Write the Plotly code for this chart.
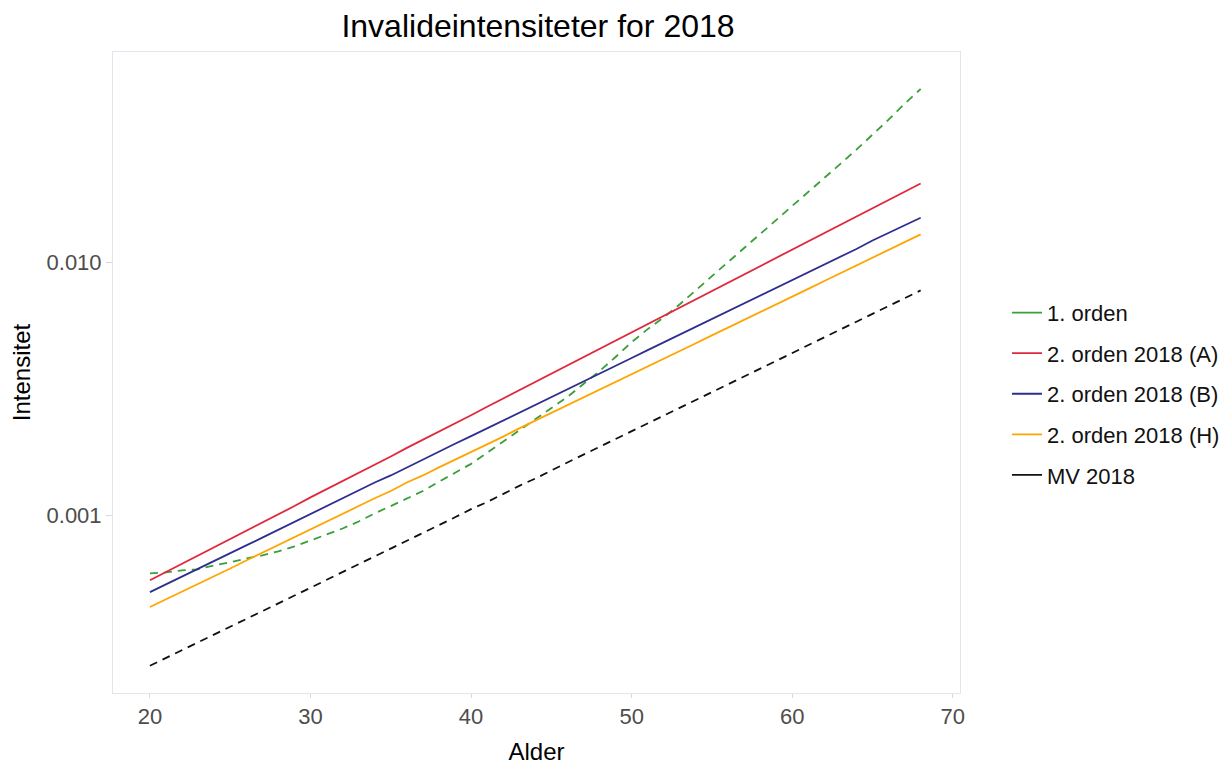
import plotly.graph_objects as go

ages = list(range(20, 69))

orden1 = [0.000591, 0.000596, 0.000607, 0.000613, 0.000636, 0.000653, 0.000677, 0.000696,
          0.000722, 0.000755, 0.000797, 0.000842, 0.000889, 0.000947, 0.00102, 0.00109,
          0.00117, 0.00125, 0.00136, 0.00148, 0.00160, 0.00177, 0.00196, 0.00216,
          0.00241, 0.00266, 0.00294, 0.00331, 0.00372, 0.00423, 0.00484, 0.00545,
          0.00607, 0.00683, 0.00776, 0.00881, 0.0100, 0.0114, 0.0129, 0.0146,
          0.0166, 0.0189, 0.0216, 0.0245, 0.0279, 0.0319, 0.0366, 0.0423, 0.0484]

orden2_A = [0.000555, 0.000598, 0.000645, 0.000695, 0.000749, 0.000808, 0.000871, 0.000939,
            0.00101, 0.00109, 0.00118, 0.00127, 0.00137, 0.00147, 0.00159, 0.00171,
            0.00185, 0.00199, 0.00215, 0.00231, 0.00249, 0.00269, 0.00290, 0.00313,
            0.00337, 0.00363, 0.00392, 0.00422, 0.00455, 0.00491, 0.00529, 0.00570,
            0.00615, 0.00663, 0.00715, 0.00770, 0.00831, 0.00895, 0.00965, 0.0104,
            0.0112, 0.0121, 0.0130, 0.0141, 0.0152, 0.0163, 0.0176, 0.0190, 0.0205]

orden2_B = [0.000498, 0.000534, 0.000574, 0.000616, 0.000661, 0.000710, 0.000762, 0.000818,
            0.000879, 0.000943, 0.00101, 0.00109, 0.00117, 0.00125, 0.00135, 0.00144,
            0.00155, 0.00166, 0.00179, 0.00192, 0.00206, 0.00221, 0.00237, 0.00255,
            0.00274, 0.00294, 0.00315, 0.00339, 0.00364, 0.00390, 0.00419, 0.00450,
            0.00483, 0.00519, 0.00557, 0.00598, 0.00642, 0.00689, 0.00740, 0.00794,
            0.00852, 0.00915, 0.00982, 0.0105, 0.0113, 0.0122, 0.0131, 0.0140, 0.0150]

orden2_H = [0.000435, 0.000466, 0.000500, 0.000537, 0.000576, 0.000618, 0.000664, 0.000712,
            0.000765, 0.000820, 0.000881, 0.000945, 0.00101, 0.00109, 0.00117, 0.00125,
            0.00135, 0.00144, 0.00155, 0.00166, 0.00178, 0.00191, 0.00205, 0.00221,
            0.00237, 0.00254, 0.00272, 0.00292, 0.00314, 0.00337, 0.00361, 0.00388,
            0.00416, 0.00447, 0.00479, 0.00515, 0.00552, 0.00593, 0.00636, 0.00683,
            0.00733, 0.00786, 0.00844, 0.00905, 0.00972, 0.0104, 0.0112, 0.0120, 0.0129]

mv2018 = [0.000255, 0.000274, 0.000294, 0.000315, 0.000339, 0.000364, 0.000390, 0.000419,
          0.000450, 0.000483, 0.000519, 0.000557, 0.000598, 0.000642, 0.000690, 0.000740,
          0.000795, 0.000854, 0.000917, 0.000984, 0.00106, 0.00113, 0.00122, 0.00131,
          0.00140, 0.00151, 0.00162, 0.00174, 0.00187, 0.00200, 0.00215, 0.00231,
          0.00248, 0.00267, 0.00286, 0.00307, 0.00330, 0.00354, 0.00380, 0.00408,
          0.00439, 0.00471, 0.00506, 0.00543, 0.00583, 0.00626, 0.00672, 0.00722, 0.00775]

series_names = ["1. orden", "2. orden 2018 (A)", "2. orden 2018 (B)", "2. orden 2018 (H)", "MV 2018"]
series_values = [orden1, orden2_A, orden2_B, orden2_H, mv2018]
colors = ["#3a9f3a", "#e0283c", "#2e2e8e", "#ffa500", "#111111"]
dashes = ["8px,6px", "solid", "solid", "solid", "8px,6px"]

y_tickvals = [0.001, 0.01]
y_ticktext = ["0.001", "0.010"]
x_tickvals = [20, 30, 40, 50, 60, 70]

FONT = "Liberation Sans, Arial, sans-serif"

W, H = 1229, 764
L, T = 103, 44          # page body adds ~8px offset
PW, PH = 854, 643

fig = go.Figure()
for name, vals, col, dsh in zip(series_names, series_values, colors, dashes):
    fig.add_trace(go.Scatter(x=ages, y=vals, mode="lines", name=name,
                             line=dict(color=col, width=1.8, dash=dsh),
                             showlegend=False, hoverinfo="x+y+name"))
for i, (name, col) in enumerate(zip(series_names, colors)):
    fig.add_trace(go.Scatter(x=[None], y=[None], mode="lines", name=name,
                             line=dict(color=col, width=1.8),
                             legendgroup="g%d" % i, showlegend=True))

fig.update_layout(
    width=W, height=H,
    margin=dict(l=L, r=W - L - PW, t=T, b=H - T - PH),
    paper_bgcolor="white", plot_bgcolor="white",
    font=dict(family=FONT, color="#000000"),
    title=dict(text="Invalideintensiteter for 2018", x=(L + PW / 2) / W, xanchor="center",
               y=1 - 18 / H, yanchor="middle", font=dict(size=32, color="#000000")),
    legend=dict(x=1.0555, xanchor="left", y=0.626, yanchor="top",
                font=dict(size=22, color="#111111"), tracegroupgap=9,
                bgcolor="rgba(0,0,0,0)", itemwidth=30),
)
fig.update_xaxes(range=[17.7, 70.45], tickvals=x_tickvals, showgrid=False, zeroline=False,
                 showline=True, linecolor="#e4e4ec", mirror=True, linewidth=1,
                 ticks="outside", ticklen=4, tickcolor="#d8d8e0",
                 tickfont=dict(size=22, color="#4d4d4d"),
                 title=dict(text="Alder", font=dict(size=24, color="#000000"), standoff=14))
fig.update_yaxes(type="log", range=[-3.701, -1.169], tickvals=y_tickvals, ticktext=y_ticktext,
                 showgrid=False, zeroline=False,
                 showline=True, linecolor="#e4e4ec", mirror=True, linewidth=1,
                 ticks="outside", ticklen=6, tickcolor="#d8d8e0",
                 tickfont=dict(size=22, color="#4d4d4d"),
                 title=dict(text="Intensitet", font=dict(size=24, color="#000000"), standoff=10))

fig.write_html("out.html")
